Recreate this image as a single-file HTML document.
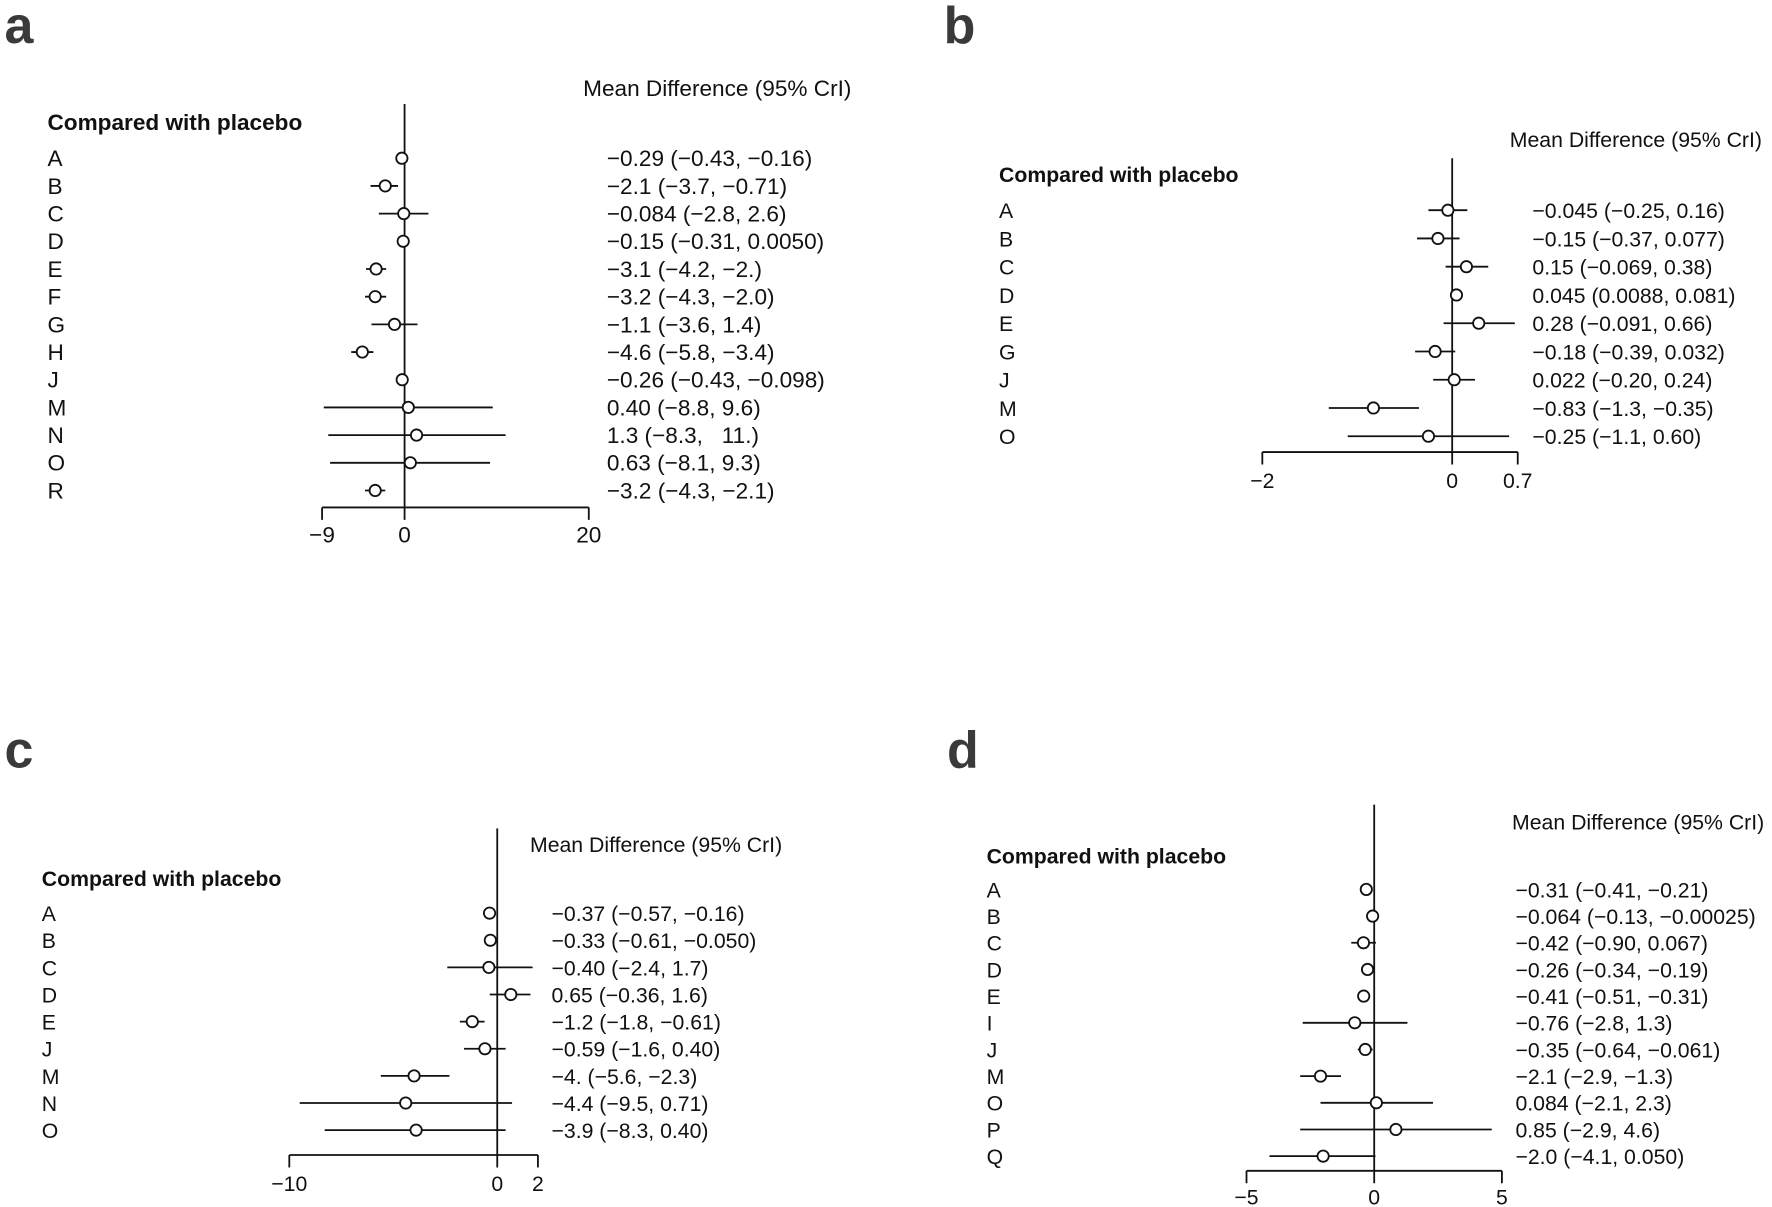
<!DOCTYPE html>
<html><head><meta charset="utf-8"><style>
html,body{margin:0;padding:0;background:#fff;}
svg{display:block;}
text{font-family:"Liberation Sans",Arial,sans-serif;fill:#111;}
.l{font-size:46px;font-weight:bold;fill:#3a3a3a;}
.h{font-size:20px;}
.b{font-size:20px;font-weight:bold;}
.r{font-size:20px;}
.t{font-size:20px;}
.s .h,.s .b,.s .r,.s .t{font-size:18.8px;}
line{stroke:#111;stroke-width:1.6;}
circle{fill:#fff;stroke:#111;stroke-width:1.6;}
</style></head><body>
<svg width="1772" height="1207" viewBox="0 0 1568 1068" preserveAspectRatio="none" xmlns="http://www.w3.org/2000/svg">
<!-- Panel a -->
<text class="l" x="4" y="38">a</text>
<text class="h" x="516" y="85">Mean Difference (95% CrI)</text>
<text class="b" x="42" y="115">Compared with placebo</text>
<line x1="358" y1="92" x2="358" y2="460"/>
<line x1="285" y1="449" x2="521" y2="449"/>
<line x1="285" y1="449" x2="285" y2="460"/>
<line x1="521" y1="449" x2="521" y2="460"/>
<text class="t" x="285" y="480" text-anchor="middle">−9</text>
<text class="t" x="358" y="480" text-anchor="middle">0</text>
<text class="t" x="521" y="480" text-anchor="middle">20</text>
<g class="r">
<text x="42" y="147">A</text><text x="42" y="171.5">B</text><text x="42" y="196">C</text><text x="42" y="220.5">D</text><text x="42" y="245">E</text><text x="42" y="269.5">F</text><text x="42" y="294">G</text><text x="42" y="318.5">H</text><text x="42" y="343">J</text><text x="42" y="367.5">M</text><text x="42" y="392">N</text><text x="42" y="416.5">O</text><text x="42" y="441">R</text>
<text x="537" y="147">−0.29 (−0.43, −0.16)</text>
<text x="537" y="171.5">−2.1 (−3.7, −0.71)</text>
<text x="537" y="196">−0.084 (−2.8, 2.6)</text>
<text x="537" y="220.5">−0.15 (−0.31, 0.0050)</text>
<text x="537" y="245">−3.1 (−4.2, −2.)</text>
<text x="537" y="269.5">−3.2 (−4.3, −2.0)</text>
<text x="537" y="294">−1.1 (−3.6, 1.4)</text>
<text x="537" y="318.5">−4.6 (−5.8, −3.4)</text>
<text x="537" y="343">−0.26 (−0.43, −0.098)</text>
<text x="537" y="367.5">0.40 (−8.8, 9.6)</text>
<text x="537" y="392" xml:space="preserve">1.3 (−8.3,   11.)</text>
<text x="537" y="416.5">0.63 (−8.1, 9.3)</text>
<text x="537" y="441">−3.2 (−4.3, −2.1)</text>
</g>
<line x1="354.5" y1="140" x2="356.7" y2="140"/><circle cx="355.6" cy="140" r="5"/>
<line x1="327.9" y1="164.5" x2="352.2" y2="164.5"/><circle cx="340.9" cy="164.5" r="5"/>
<line x1="335.2" y1="189" x2="379.1" y2="189"/><circle cx="357.3" cy="189" r="5"/>
<line x1="355.5" y1="213.5" x2="358" y2="213.5"/><circle cx="356.8" cy="213.5" r="5"/>
<line x1="323.9" y1="238" x2="341.7" y2="238"/><circle cx="332.8" cy="238" r="5"/>
<line x1="323" y1="262.5" x2="341.7" y2="262.5"/><circle cx="332" cy="262.5" r="5"/>
<line x1="328.7" y1="287" x2="369.4" y2="287"/><circle cx="349.1" cy="287" r="5"/>
<line x1="310.8" y1="311.5" x2="330.4" y2="311.5"/><circle cx="320.6" cy="311.5" r="5"/>
<line x1="354.5" y1="336" x2="357.2" y2="336"/><circle cx="355.9" cy="336" r="5"/>
<line x1="286.5" y1="360.5" x2="436" y2="360.5"/><circle cx="361.3" cy="360.5" r="5"/>
<line x1="290.5" y1="385" x2="447.4" y2="385"/><circle cx="368.6" cy="385" r="5"/>
<line x1="292.1" y1="409.5" x2="433.6" y2="409.5"/><circle cx="363.1" cy="409.5" r="5"/>
<line x1="323" y1="434" x2="340.9" y2="434"/><circle cx="332" cy="434" r="5"/>

<!-- Panel b -->
<g class="s">
<text class="l" x="835" y="38">b</text>
<text class="h" x="1336" y="130">Mean Difference (95% CrI)</text>
<text class="b" x="884" y="161">Compared with placebo</text>
<line x1="1285" y1="140" x2="1285" y2="411"/>
<line x1="1117" y1="400" x2="1343" y2="400"/>
<line x1="1117" y1="400" x2="1117" y2="411"/>
<line x1="1343" y1="400" x2="1343" y2="411"/>
<text class="t" x="1117" y="432" text-anchor="middle">−2</text>
<text class="t" x="1285" y="432" text-anchor="middle">0</text>
<text class="t" x="1343" y="432" text-anchor="middle">0.7</text>
<g class="r">
<text x="884" y="193">A</text><text x="884" y="218">B</text><text x="884" y="243">C</text><text x="884" y="268">D</text><text x="884" y="293">E</text><text x="884" y="318">G</text><text x="884" y="343">J</text><text x="884" y="368">M</text><text x="884" y="393">O</text>
<text x="1356" y="193">−0.045 (−0.25, 0.16)</text>
<text x="1356" y="218">−0.15 (−0.37, 0.077)</text>
<text x="1356" y="243">0.15 (−0.069, 0.38)</text>
<text x="1356" y="268">0.045 (0.0088, 0.081)</text>
<text x="1356" y="293">0.28 (−0.091, 0.66)</text>
<text x="1356" y="318">−0.18 (−0.39, 0.032)</text>
<text x="1356" y="343">0.022 (−0.20, 0.24)</text>
<text x="1356" y="368">−0.83 (−1.3, −0.35)</text>
<text x="1356" y="393">−0.25 (−1.1, 0.60)</text>
</g>
<line x1="1264" y1="186" x2="1298.4" y2="186"/><circle cx="1281.2" cy="186" r="5"/>
<line x1="1253.9" y1="211" x2="1291.5" y2="211"/><circle cx="1272.4" cy="211" r="5"/>
<line x1="1279.2" y1="236" x2="1316.9" y2="236"/><circle cx="1297.6" cy="236" r="5"/>
<line x1="1285.7" y1="261" x2="1291.8" y2="261"/><circle cx="1288.8" cy="261" r="5"/>
<line x1="1277.4" y1="286" x2="1340.4" y2="286"/><circle cx="1308.5" cy="286" r="5"/>
<line x1="1252.2" y1="311" x2="1287.7" y2="311"/><circle cx="1269.9" cy="311" r="5"/>
<line x1="1268.2" y1="336" x2="1305.2" y2="336"/><circle cx="1286.8" cy="336" r="5"/>
<line x1="1175.8" y1="361" x2="1255.6" y2="361"/><circle cx="1215.3" cy="361" r="5"/>
<line x1="1192.6" y1="386" x2="1335.4" y2="386"/><circle cx="1264" cy="386" r="5"/>
</g>

<!-- Panel c -->
<g class="s">
<text class="l" x="4" y="679">c</text>
<text class="h" x="469" y="754">Mean Difference (95% CrI)</text>
<text class="b" x="37" y="784">Compared with placebo</text>
<line x1="440" y1="733" x2="440" y2="1033"/>
<line x1="256" y1="1022" x2="476" y2="1022"/>
<line x1="256" y1="1022" x2="256" y2="1033"/>
<line x1="476" y1="1022" x2="476" y2="1033"/>
<text class="t" x="256" y="1054" text-anchor="middle">−10</text>
<text class="t" x="440" y="1054" text-anchor="middle">0</text>
<text class="t" x="476" y="1054" text-anchor="middle">2</text>
<g class="r">
<text x="37" y="815">A</text><text x="37" y="839">B</text><text x="37" y="863">C</text><text x="37" y="887">D</text><text x="37" y="911">E</text><text x="37" y="935">J</text><text x="37" y="959">M</text><text x="37" y="983">N</text><text x="37" y="1007">O</text>
<text x="488" y="815">−0.37 (−0.57, −0.16)</text>
<text x="488" y="839">−0.33 (−0.61, −0.050)</text>
<text x="488" y="863">−0.40 (−2.4, 1.7)</text>
<text x="488" y="887">0.65 (−0.36, 1.6)</text>
<text x="488" y="911">−1.2 (−1.8, −0.61)</text>
<text x="488" y="935">−0.59 (−1.6, 0.40)</text>
<text x="488" y="959">−4. (−5.6, −2.3)</text>
<text x="488" y="983">−4.4 (−9.5, 0.71)</text>
<text x="488" y="1007">−3.9 (−8.3, 0.40)</text>
</g>
<line x1="429.5" y1="808" x2="437.1" y2="808"/><circle cx="433.2" cy="808" r="5"/>
<line x1="428.8" y1="832" x2="439.1" y2="832"/><circle cx="433.9" cy="832" r="5"/>
<line x1="395.8" y1="856" x2="471.3" y2="856"/><circle cx="432.6" cy="856" r="5"/>
<line x1="433.4" y1="880" x2="469.4" y2="880"/><circle cx="452" cy="880" r="5"/>
<line x1="406.9" y1="904" x2="428.8" y2="904"/><circle cx="417.9" cy="904" r="5"/>
<line x1="410.6" y1="928" x2="447.4" y2="928"/><circle cx="429.1" cy="928" r="5"/>
<line x1="337" y1="952" x2="397.7" y2="952"/><circle cx="366.4" cy="952" r="5"/>
<line x1="265.2" y1="976" x2="453.1" y2="976"/><circle cx="359" cy="976" r="5"/>
<line x1="287.3" y1="1000" x2="447.4" y2="1000"/><circle cx="368.2" cy="1000" r="5"/>
</g>

<!-- Panel d -->
<g class="s">
<text class="l" x="838" y="679">d</text>
<text class="h" x="1338" y="734">Mean Difference (95% CrI)</text>
<text class="b" x="873" y="764">Compared with placebo</text>
<line x1="1216" y1="712" x2="1216" y2="1047"/>
<line x1="1103" y1="1036" x2="1329" y2="1036"/>
<line x1="1103" y1="1036" x2="1103" y2="1047"/>
<line x1="1329" y1="1036" x2="1329" y2="1047"/>
<text class="t" x="1103" y="1066" text-anchor="middle">−5</text>
<text class="t" x="1216" y="1066" text-anchor="middle">0</text>
<text class="t" x="1329" y="1066" text-anchor="middle">5</text>
<g class="r">
<text x="873" y="794">A</text><text x="873" y="817.6">B</text><text x="873" y="841.2">C</text><text x="873" y="864.8">D</text><text x="873" y="888.4">E</text><text x="873" y="912">I</text><text x="873" y="935.6">J</text><text x="873" y="959.2">M</text><text x="873" y="982.8">O</text><text x="873" y="1006.4">P</text><text x="873" y="1030">Q</text>
<text x="1341" y="794">−0.31 (−0.41, −0.21)</text>
<text x="1341" y="817.6">−0.064 (−0.13, −0.00025)</text>
<text x="1341" y="841.2">−0.42 (−0.90, 0.067)</text>
<text x="1341" y="864.8">−0.26 (−0.34, −0.19)</text>
<text x="1341" y="888.4">−0.41 (−0.51, −0.31)</text>
<text x="1341" y="912">−0.76 (−2.8, 1.3)</text>
<text x="1341" y="935.6">−0.35 (−0.64, −0.061)</text>
<text x="1341" y="959.2">−2.1 (−2.9, −1.3)</text>
<text x="1341" y="982.8">0.084 (−2.1, 2.3)</text>
<text x="1341" y="1006.4">0.85 (−2.9, 4.6)</text>
<text x="1341" y="1030">−2.0 (−4.1, 0.050)</text>
</g>
<line x1="1206.7" y1="787" x2="1211.3" y2="787"/><circle cx="1209" cy="787" r="5"/>
<line x1="1213.1" y1="810.6" x2="1216" y2="810.6"/><circle cx="1214.6" cy="810.6" r="5"/>
<line x1="1195.7" y1="834.2" x2="1217.5" y2="834.2"/><circle cx="1206.5" cy="834.2" r="5"/>
<line x1="1208.3" y1="857.8" x2="1211.7" y2="857.8"/><circle cx="1210.1" cy="857.8" r="5"/>
<line x1="1204.5" y1="881.4" x2="1209" y2="881.4"/><circle cx="1206.7" cy="881.4" r="5"/>
<line x1="1152.7" y1="905" x2="1245.4" y2="905"/><circle cx="1198.8" cy="905" r="5"/>
<line x1="1201.5" y1="928.6" x2="1214.6" y2="928.6"/><circle cx="1208.1" cy="928.6" r="5"/>
<line x1="1150.5" y1="952.2" x2="1186.6" y2="952.2"/><circle cx="1168.5" cy="952.2" r="5"/>
<line x1="1168.5" y1="975.8" x2="1268" y2="975.8"/><circle cx="1217.9" cy="975.8" r="5"/>
<line x1="1150.5" y1="999.4" x2="1320" y2="999.4"/><circle cx="1235.2" cy="999.4" r="5"/>
<line x1="1123.3" y1="1023" x2="1217.1" y2="1023"/><circle cx="1170.8" cy="1023" r="5"/>
</g>
</svg>
</body></html>
